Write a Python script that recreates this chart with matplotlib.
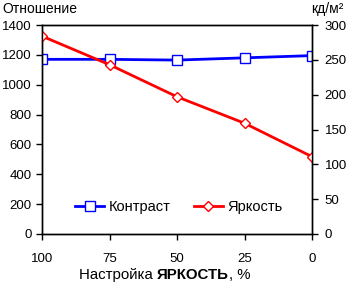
import matplotlib
matplotlib.use('Agg')
import matplotlib.pyplot as plt

plt.rcParams['font.family'] = ['Liberation Sans', 'DejaVu Sans']
plt.rcParams['font.size'] = 10

# Data
settings = [100, 75, 50, 25, 0]
contrast = [1170, 1170, 1165, 1180, 1195]
brightness = [284, 243, 197, 159, 111]

fig = plt.figure(figsize=(3.47, 2.84), dpi=100)
ax = fig.add_axes([42/347, 1-234/284, 270/347, 209/284])
ax2 = ax.twinx()

l1, = ax.plot(settings, contrast, color='#0000ff', linewidth=2, marker='s', markersize=6.5,
              markerfacecolor='white', markeredgecolor='#0000ff', markeredgewidth=1, label='Контраст')
l2, = ax2.plot(settings, brightness, color='#ff0000', linewidth=2, marker='D', markersize=5.5,
               markerfacecolor='white', markeredgecolor='#ff0000', markeredgewidth=1, label='Яркость')

ax.set_xlim(100, 0)
ax.set_ylim(0, 1400)
ax2.set_ylim(0, 300)
ax.set_xticks(settings)
ax.set_yticks(range(0, 1401, 200))
ax2.set_yticks(range(0, 301, 50))

for a in (ax, ax2):
    a.tick_params(direction='out', length=4.5, width=1, pad=3, colors='black', labelsize=9.5)
    for s in a.spines.values():
        s.set_linewidth(1)
ax.tick_params(axis='x', pad=9)
ax2.tick_params(axis='y', pad=4.5)

ax.legend([l1, l2], ['Контраст', 'Яркость'], loc='center', bbox_to_anchor=(0.507, 0.129),
          ncol=2, frameon=False, handlelength=2.0, columnspacing=1.6, handletextpad=0.3,
          fontsize=10.5)

fig.text(2/347, 1-9/284, 'Отношение', ha='left', va='center', fontsize=10)
fig.text(344/347, 1-9/284, 'кд/м²', ha='right', va='center', fontsize=10)

# x label with bold part
fig.canvas.draw()
r = fig.canvas.get_renderer()
y = 1-275/284
parts = [('Настройка ', 'normal'), ('ЯРКОСТЬ', 'bold'), (', %', 'normal')]
texts = [fig.text(0, y, p, fontweight=w, ha='left', va='center', fontsize=10.8) for p, w in parts]
widths = [t.get_window_extent(r).width for t in texts]
total = sum(widths)
x0 = 165 - total / 2
for t, w in zip(texts, widths):
    t.set_x(x0 / (fig.get_figwidth() * fig.dpi))
    x0 += w

plt.savefig('out.png', dpi=100)
